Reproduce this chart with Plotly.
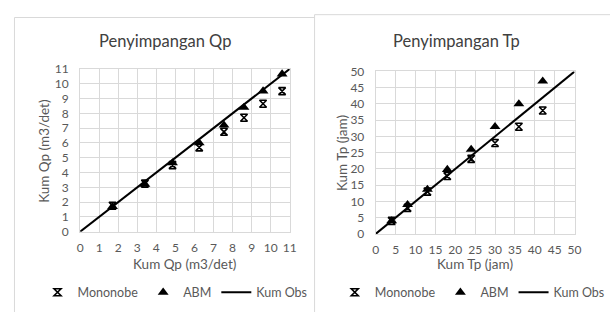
import plotly.graph_objects as go

# ---- data: Penyimpangan Qp ----
qp_x = [1.7, 3.4, 4.85, 6.25, 7.55, 8.6, 9.6, 10.6]
qp_mononobe = [1.75, 3.25, 4.5, 5.7, 6.75, 7.7, 8.65, 9.5]
qp_abm = [1.7, 3.2, 4.65, 6.0, 7.2, 8.4, 9.5, 10.65]
qp_obs_x = [0, 11]
qp_obs_y = [0, 11]

# ---- data: Penyimpangan Tp ----
tp_x = [4, 8, 13, 18, 24, 30, 36, 42]
tp_mononobe = [4, 8, 13, 17.8, 23.1, 28, 33, 38]
tp_abm = [4, 9, 13.7, 19.8, 26, 33, 40, 47]
tp_obs_x = [0, 50]
tp_obs_y = [0, 50]

FONT = "Lato"
TXT = "#595959"
W, H = 610, 312

def px(x):
    return x / W

def py(y):
    return 1 - y / H

fig = go.Figure()

mono_marker = dict(symbol="hourglass-open", size=7, color="black", line=dict(width=1.6, color="black"))
abm_marker = dict(symbol="triangle-up", size=9.5, color="black")

fig.add_trace(go.Scatter(x=qp_x, y=qp_mononobe, mode="markers", name="Mononobe",
                         marker=mono_marker, xaxis="x", yaxis="y", legend="legend"))
fig.add_trace(go.Scatter(x=qp_x, y=qp_abm, mode="markers", name="ABM",
                         marker=abm_marker, xaxis="x", yaxis="y", legend="legend"))
fig.add_trace(go.Scatter(x=qp_obs_x, y=qp_obs_y, mode="lines", name="Kum Obs",
                         line=dict(color="black", width=2), xaxis="x", yaxis="y", legend="legend"))

fig.add_trace(go.Scatter(x=tp_x, y=tp_mononobe, mode="markers", name="Mononobe",
                         marker=mono_marker, xaxis="x2", yaxis="y2", legend="legend2"))
fig.add_trace(go.Scatter(x=tp_x, y=tp_abm, mode="markers", name="ABM",
                         marker=abm_marker, xaxis="x2", yaxis="y2", legend="legend2"))
fig.add_trace(go.Scatter(x=tp_obs_x, y=tp_obs_y, mode="lines", name="Kum Obs",
                         line=dict(color="black", width=2), xaxis="x2", yaxis="y2", legend="legend2"))

ax_common = dict(showgrid=True, gridcolor="#d9d9d9", gridwidth=1, zeroline=False,
                 showline=True, linecolor="#d9d9d9", linewidth=1, mirror=True,
                 ticks="outside", tickcolor="rgba(0,0,0,0)",
                 tickfont=dict(family=FONT, size=12, color=TXT), fixedrange=True)

TITLE_FONT = dict(family=FONT, size=16.5, color="#404040")
AX_FONT = dict(family=FONT, size=13.5, color=TXT)
LEG_FONT = dict(family=FONT, size=12.5, color=TXT)

fig.update_layout(
    width=W, height=H, margin=dict(l=0, r=0, t=0, b=0),
    paper_bgcolor="white", plot_bgcolor="white",
    showlegend=True,
    xaxis=dict(domain=[px(80.7), px(300)], range=[0, 11], dtick=1, anchor="y", ticklen=5, **ax_common),
    yaxis=dict(domain=[py(235), py(64)], range=[0, 11], dtick=1, anchor="x", ticklen=8, **ax_common),
    xaxis2=dict(domain=[px(390), px(598)], range=[0, 50], dtick=5, anchor="y2", ticklen=5, **ax_common),
    yaxis2=dict(domain=[py(237.3), py(66.7)], range=[0, 50], dtick=5, anchor="x2", ticklen=8, **ax_common),
    legend=dict(orientation="h", x=px(180), y=py(299), xanchor="center", yanchor="middle",
                font=LEG_FONT, bgcolor="rgba(0,0,0,0)", itemwidth=30),
    legend2=dict(orientation="h", x=px(491), y=py(299), xanchor="center", yanchor="middle",
                 font=LEG_FONT, bgcolor="rgba(0,0,0,0)", itemwidth=30),
    annotations=[
        dict(text="Penyimpangan Qp", x=px(169), y=py(35), xref="paper", yref="paper",
             showarrow=False, xanchor="center", yanchor="middle", font=TITLE_FONT),
        dict(text="Penyimpangan Tp", x=px(474), y=py(35), xref="paper", yref="paper",
             showarrow=False, xanchor="center", yanchor="middle", font=TITLE_FONT),
        dict(text="Kum Qp (m3/det)", x=px(190), y=py(269), xref="paper", yref="paper",
             showarrow=False, xanchor="center", yanchor="middle", font=AX_FONT),
        dict(text="Kum Tp (jam)", x=px(494), y=py(269), xref="paper", yref="paper",
             showarrow=False, xanchor="center", yanchor="middle", font=AX_FONT),
        dict(text="Kum Qp (m3/det)", x=px(43), y=py(151), xref="paper", yref="paper",
             showarrow=False, xanchor="center", yanchor="middle", textangle=-90, font=AX_FONT),
        dict(text="Kum Tp (jam)", x=px(354), y=py(152), xref="paper", yref="paper",
             showarrow=False, xanchor="center", yanchor="middle", textangle=-90, font=AX_FONT),
    ],
    shapes=[
        dict(type="rect", xref="paper", yref="paper", layer="below",
             x0=px(12), x1=px(360), y0=py(330), y1=py(10),
             line=dict(color="#d9d9d9", width=1), fillcolor="white"),
        dict(type="rect", xref="paper", yref="paper", layer="below",
             x0=px(326), x1=px(640), y0=py(330), y1=py(7),
             line=dict(color="#d9d9d9", width=1), fillcolor="white"),
    ],
)

fig.write_html("out.html", config={"displayModeBar": False},
               post_script="document.body.style.margin='0';document.body.style.overflow='hidden';")
